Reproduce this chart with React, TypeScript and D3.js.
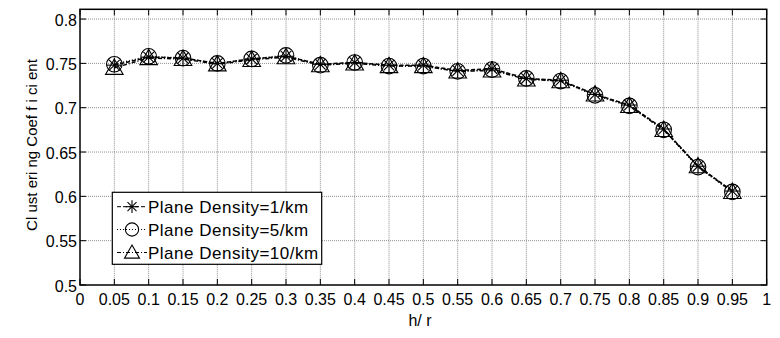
import React from "react";
import * as d3 from "d3";

const xValues = [0.05, 0.1, 0.15, 0.2, 0.25, 0.3, 0.35, 0.4, 0.45, 0.5, 0.55, 0.6, 0.65, 0.7, 0.75, 0.8, 0.85, 0.9, 0.95];
const density1 = [0.748, 0.757, 0.756, 0.750, 0.755, 0.758, 0.749, 0.751, 0.748, 0.748, 0.742, 0.744, 0.733, 0.731, 0.715, 0.703, 0.676, 0.634, 0.606];
const density5 = [0.749, 0.758, 0.756, 0.750, 0.755, 0.759, 0.748, 0.751, 0.747, 0.747, 0.741, 0.743, 0.733, 0.730, 0.714, 0.702, 0.675, 0.633, 0.605];
const density10 = [0.745, 0.756, 0.755, 0.749, 0.754, 0.757, 0.748, 0.750, 0.747, 0.747, 0.741, 0.742, 0.732, 0.730, 0.715, 0.702, 0.675, 0.634, 0.605];
const seriesNames = ["Plane Density=1/km", "Plane Density=5/km", "Plane Density=10/km"];
const xTicks = [0, 0.05, 0.1, 0.15, 0.2, 0.25, 0.3, 0.35, 0.4, 0.45, 0.5, 0.55, 0.6, 0.65, 0.7, 0.75, 0.8, 0.85, 0.9, 0.95, 1];
const yTicks = [0.5, 0.55, 0.6, 0.65, 0.7, 0.75, 0.8];

const W = 780, H = 338;
const L = 80, R = 766.7, T = 9.3, B = 285;
const FONT = "'Liberation Sans', Arial, sans-serif";

function Marker({ kind, cx, cy, s = 1 }: { kind: number; cx: number; cy: number; s?: number }) {
  const st = { fill: "none", stroke: "#000", strokeWidth: 1.1 };
  if (kind === 0) {
    const a = 7.5 * s, d = 5.3 * s;
    return (
      <g {...st}>
        <line x1={cx - a} y1={cy} x2={cx + a} y2={cy} />
        <line x1={cx} y1={cy - a} x2={cx} y2={cy + a} />
        <line x1={cx - d} y1={cy - d} x2={cx + d} y2={cy + d} />
        <line x1={cx - d} y1={cy + d} x2={cx + d} y2={cy - d} />
      </g>
    );
  }
  if (kind === 1) return <circle cx={cx} cy={cy} r={7.8 * s} {...st} />;
  const h = 8.8 * s;
  return <path d={`M${cx},${cy - h}L${cx + h},${cy + h * 0.75}L${cx - h},${cy + h * 0.75}Z`} {...st} />;
}

export default function App() {
  const x = d3.scaleLinear().domain([0, 1]).range([L, R]);
  const y = d3.scaleLinear().domain([0.5, 0.811]).range([B, T]);
  const all = [density1, density5, density10];
  const dashes = ["4,2", "1,2", "4,2,1,2"];
  const line = d3.line<number>().x((_, i) => x(xValues[i])).y((v) => y(v));

  const legX = 112.3, legY = 192.3, legW = 209.4, legH = 72;
  const rowY = [206.7, 229.5, 252.5];

  return (
    <svg width={W} height={H} style={{ position: "absolute", left: 0, top: 0, background: "#fff" }} fontFamily={FONT}>
      <rect x={0} y={0} width={W} height={H} fill="#fff" />
      {/* grid */}
      <g stroke="#8f8f8f" strokeWidth={1} strokeDasharray="1,1">
        {xTicks.slice(1, -1).map((t) => (
          <line key={"gx" + t} x1={x(t)} x2={x(t)} y1={T} y2={B} />
        ))}
        {yTicks.slice(1).map((t) => (
          <line key={"gy" + t} x1={L} x2={R} y1={y(t)} y2={y(t)} />
        ))}
      </g>
      {/* ticks */}
      <g stroke="#000" strokeWidth={1}>
        {xTicks.map((t) => (
          <g key={"tx" + t}>
            <line x1={x(t)} x2={x(t)} y1={B} y2={B - 6} />
            <line x1={x(t)} x2={x(t)} y1={T} y2={T + 6} />
          </g>
        ))}
        {yTicks.map((t) => (
          <g key={"ty" + t}>
            <line x1={L} x2={L + 6} y1={y(t)} y2={y(t)} />
            <line x1={R} x2={R - 6} y1={y(t)} y2={y(t)} />
          </g>
        ))}
      </g>
      <rect x={L} y={T} width={R - L} height={B - T} fill="none" stroke="#000" strokeWidth={1.5} />
      {/* series */}
      {all.map((s, k) => (
        <g key={"s" + k}>
          <path d={line(s) || ""} fill="none" stroke="#000" strokeWidth={1.5} strokeDasharray={dashes[k]} />
          {s.map((v, i) => (
            <Marker key={i} kind={k} cx={x(xValues[i])} cy={y(v)} />
          ))}
        </g>
      ))}
      {/* tick labels */}
      <g fontSize={16} fill="#000">
        {xTicks.map((t) => (
          <text key={"lx" + t} x={x(t)} y={304.5} textAnchor="middle">{String(t)}</text>
        ))}
        {yTicks.map((t) => (
          <text key={"ly" + t} x={77} y={y(t) + 6.5} textAnchor="end">{String(t)}</text>
        ))}
      </g>
      <text x={420} y={325.5} fontSize={16} textAnchor="middle">h/ r</text>
      <text transform={`translate(36.5,145) rotate(-90)`} fontSize={15} textAnchor="middle">Cl ust eri ng Coef f i ci ent</text>
      {/* legend */}
      <rect x={legX} y={legY} width={legW} height={legH} fill="#fff" stroke="#000" strokeWidth={1.2} />
      {seriesNames.map((n, k) => (
        <g key={"lg" + k}>
          <line x1={117} x2={147} y1={rowY[k]} y2={rowY[k]} stroke="#000" strokeWidth={1} strokeDasharray={dashes[k]} />
          <Marker kind={k} cx={132} cy={rowY[k]} s={0.85} />
          <text x={148} y={rowY[k] + 6} fontSize={17} letterSpacing={0.5}>{n}</text>
        </g>
      ))}
    </svg>
  );
}
